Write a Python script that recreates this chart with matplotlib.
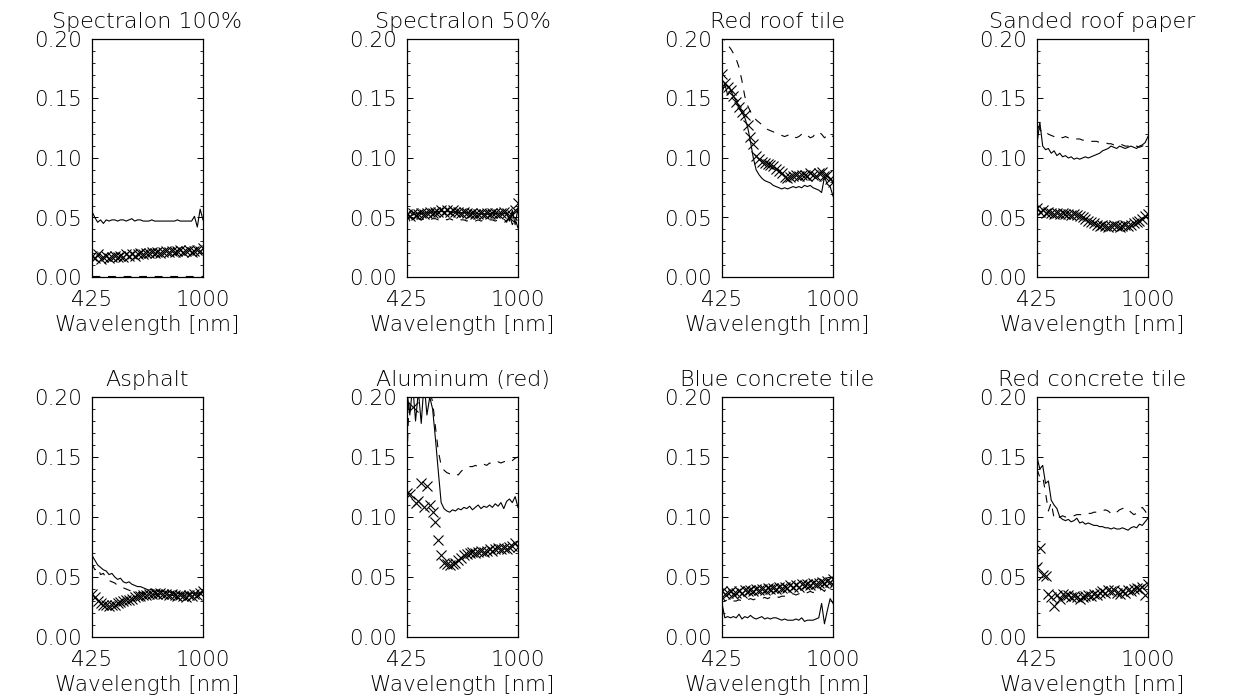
import numpy as np
import matplotlib
matplotlib.use("Agg")
from matplotlib import pyplot as plt
from matplotlib.ticker import MultipleLocator, FormatStrFormatter

plt.rcParams['font.family'] = ['DejaVu Sans']
plt.rcParams['font.size'] = 15.5
plt.rcParams['font.weight'] = 'light'
plt.rcParams['axes.titleweight'] = 'light'
plt.rcParams['axes.labelweight'] = 'light'

# band centres of the spectrometer (nm)
wavelength = np.linspace(425, 1000, 40)

targets = ["Spectralon 100%", "Spectralon 50%", "Red roof tile", "Sanded roof paper",
           "Asphalt", "Aluminum (red)", "Blue concrete tile", "Red concrete tile"]

# reflectance, three retrievals per target: solid line, dashed line, crosses
spec100_solid = [0.055, 0.050, 0.046, 0.048, 0.045, 0.048, 0.047, 0.048, 0.048, 0.047,
                 0.048, 0.048, 0.047, 0.048, 0.049, 0.047, 0.048, 0.048, 0.047, 0.047,
                 0.047, 0.048, 0.047, 0.047, 0.047, 0.047, 0.047, 0.047, 0.047, 0.047,
                 0.048, 0.047, 0.047, 0.047, 0.047, 0.047, 0.051, 0.042, 0.057, 0.048]
spec100_dash = [0.0006] * 40
spec100_x = [0.018, 0.016, 0.019, 0.015, 0.017, 0.018, 0.016, 0.017, 0.018, 0.017,
             0.018, 0.017, 0.019, 0.018, 0.019, 0.018, 0.019, 0.020, 0.019, 0.020,
             0.020, 0.021, 0.020, 0.021, 0.020, 0.021, 0.022, 0.021, 0.022, 0.021,
             0.022, 0.023, 0.021, 0.022, 0.023, 0.021, 0.022, 0.023, 0.022, 0.024]

spec50_solid = [0.050, 0.055, 0.052, 0.053, 0.054, 0.053, 0.054, 0.054, 0.054, 0.055,
                0.054, 0.055, 0.055, 0.055, 0.055, 0.055, 0.054, 0.055, 0.054, 0.054,
                0.054, 0.054, 0.054, 0.053, 0.054, 0.053, 0.053, 0.053, 0.053, 0.053,
                0.054, 0.053, 0.054, 0.053, 0.053, 0.054, 0.047, 0.056, 0.044, 0.058]
spec50_dash = [0.053, 0.047, 0.049, 0.048, 0.049, 0.048, 0.049, 0.049, 0.048, 0.049,
               0.049, 0.048, 0.049, 0.049, 0.048, 0.049, 0.048, 0.048, 0.049, 0.048,
               0.048, 0.047, 0.048, 0.048, 0.047, 0.048, 0.047, 0.048, 0.047, 0.048,
               0.048, 0.047, 0.048, 0.048, 0.049, 0.046, 0.052, 0.044, 0.049, 0.041]
spec50_x = [0.053, 0.051, 0.054, 0.052, 0.053, 0.054, 0.053, 0.054, 0.055, 0.054,
            0.055, 0.055, 0.056, 0.055, 0.056, 0.055, 0.056, 0.055, 0.055, 0.054,
            0.055, 0.054, 0.053, 0.054, 0.053, 0.053, 0.054, 0.053, 0.054, 0.053,
            0.054, 0.054, 0.053, 0.054, 0.055, 0.054, 0.050, 0.052, 0.056, 0.062]

roof_solid = [0.155, 0.162, 0.153, 0.157, 0.152, 0.148, 0.143, 0.138, 0.134, 0.126,
              0.114, 0.100, 0.090, 0.086, 0.083, 0.081, 0.080, 0.079, 0.077, 0.076,
              0.075, 0.074, 0.075, 0.074, 0.075, 0.076, 0.075, 0.076, 0.075, 0.077,
              0.076, 0.077, 0.075, 0.074, 0.073, 0.071, 0.084, 0.078, 0.076, 0.068]
roof_dash = [0.205, 0.198, 0.195, 0.192, 0.188, 0.183, 0.176, 0.165, 0.152, 0.144,
             0.139, 0.135, 0.132, 0.130, 0.128, 0.126, 0.124, 0.123, 0.122, 0.121,
             0.120, 0.119, 0.118, 0.119, 0.120, 0.119, 0.117, 0.118, 0.120, 0.121,
             0.119, 0.117, 0.118, 0.121, 0.122, 0.120, 0.117, 0.119, 0.120, 0.118]
roof_x = [0.171, 0.163, 0.160, 0.157, 0.152, 0.147, 0.143, 0.139, 0.136, 0.128,
          0.118, 0.112, 0.102, 0.099, 0.097, 0.096, 0.095, 0.094, 0.093, 0.091,
          0.089, 0.087, 0.084, 0.083, 0.084, 0.085, 0.086, 0.085, 0.086, 0.086,
          0.085, 0.087, 0.086, 0.085, 0.087, 0.088, 0.085, 0.086, 0.082, 0.080]

paper_solid = [0.112, 0.130, 0.110, 0.107, 0.108, 0.104, 0.106, 0.102, 0.104, 0.101,
               0.102, 0.100, 0.101, 0.099, 0.100, 0.099, 0.100, 0.101, 0.100, 0.101,
               0.102, 0.103, 0.104, 0.106, 0.107, 0.108, 0.110, 0.109, 0.108, 0.110,
               0.109, 0.108, 0.109, 0.110, 0.109, 0.108, 0.110, 0.111, 0.113, 0.118]
paper_dash = [0.128, 0.124, 0.121, 0.122, 0.120, 0.119, 0.118, 0.119, 0.118, 0.117,
              0.118, 0.117, 0.117, 0.116, 0.116, 0.116, 0.115, 0.115, 0.115, 0.114,
              0.114, 0.114, 0.113, 0.113, 0.113, 0.112, 0.112, 0.111, 0.111, 0.112,
              0.111, 0.110, 0.110, 0.110, 0.109, 0.110, 0.109, 0.110, 0.111, 0.113]
paper_x = [0.058, 0.055, 0.056, 0.054, 0.055, 0.054, 0.053, 0.054, 0.053, 0.054,
           0.053, 0.053, 0.052, 0.053, 0.052, 0.051, 0.050, 0.049, 0.047, 0.046,
           0.045, 0.044, 0.043, 0.044, 0.043, 0.042, 0.043, 0.044, 0.043, 0.042,
           0.043, 0.044, 0.043, 0.044, 0.045, 0.046, 0.047, 0.049, 0.051, 0.053]

asphalt_solid = [0.068, 0.064, 0.060, 0.058, 0.056, 0.055, 0.052, 0.053, 0.050, 0.048,
                 0.049, 0.046, 0.045, 0.046, 0.044, 0.043, 0.042, 0.042, 0.041, 0.040,
                 0.039, 0.040, 0.038, 0.039, 0.038, 0.038, 0.037, 0.038, 0.037, 0.036,
                 0.037, 0.036, 0.036, 0.037, 0.036, 0.037, 0.036, 0.037, 0.036, 0.038]
asphalt_dash = [0.061, 0.056, 0.058, 0.052, 0.053, 0.049, 0.047, 0.046, 0.045, 0.043,
                0.042, 0.041, 0.040, 0.039, 0.038, 0.038, 0.037, 0.037, 0.036, 0.036,
                0.036, 0.036, 0.035, 0.036, 0.035, 0.035, 0.036, 0.035, 0.035, 0.034,
                0.035, 0.035, 0.034, 0.035, 0.035, 0.036, 0.035, 0.036, 0.037, 0.038]
asphalt_x = [0.036, 0.033, 0.030, 0.028, 0.027, 0.027, 0.026, 0.027, 0.027, 0.028,
             0.029, 0.030, 0.031, 0.031, 0.032, 0.033, 0.034, 0.034, 0.035, 0.035,
             0.036, 0.036, 0.037, 0.036, 0.037, 0.036, 0.036, 0.035, 0.036, 0.035,
             0.034, 0.035, 0.034, 0.033, 0.035, 0.034, 0.036, 0.035, 0.037, 0.038]

alu_solid = [0.205, 0.185, 0.210, 0.180, 0.205, 0.178, 0.212, 0.185, 0.200, 0.190,
             0.165, 0.138, 0.112, 0.107, 0.105, 0.104, 0.106, 0.105, 0.107, 0.106,
             0.108, 0.107, 0.109, 0.106, 0.108, 0.110, 0.107, 0.109, 0.108, 0.110,
             0.108, 0.111, 0.109, 0.112, 0.107, 0.113, 0.115, 0.112, 0.117, 0.108]
alu_dash = [0.150, 0.215, 0.220, 0.210, 0.225, 0.215, 0.220, 0.212, 0.205, 0.196,
            0.175, 0.155, 0.143, 0.139, 0.137, 0.136, 0.135, 0.136, 0.135, 0.138,
            0.140, 0.141, 0.142, 0.142, 0.143, 0.142, 0.143, 0.144, 0.143, 0.145,
            0.144, 0.145, 0.146, 0.145, 0.146, 0.147, 0.148, 0.147, 0.149, 0.150]
alu_x = [0.120, 0.119, 0.192, 0.112, 0.113, 0.128, 0.108, 0.126, 0.110, 0.104,
         0.096, 0.081, 0.068, 0.062, 0.061, 0.060, 0.061, 0.062, 0.064, 0.066,
         0.068, 0.069, 0.070, 0.071, 0.070, 0.071, 0.072, 0.071, 0.072, 0.073,
         0.072, 0.073, 0.074, 0.073, 0.074, 0.073, 0.075, 0.076, 0.078, 0.075]

blue_solid = [0.028, 0.016, 0.017, 0.016, 0.017, 0.016, 0.019, 0.015, 0.017, 0.016,
              0.018, 0.016, 0.015, 0.016, 0.017, 0.015, 0.016, 0.015, 0.016, 0.016,
              0.015, 0.014, 0.015, 0.014, 0.014, 0.014, 0.015, 0.014, 0.016, 0.013,
              0.014, 0.014, 0.014, 0.015, 0.016, 0.028, 0.011, 0.022, 0.032, 0.028]
blue_dash = [0.034, 0.030, 0.031, 0.029, 0.030, 0.030, 0.031, 0.030, 0.031, 0.031,
             0.032, 0.031, 0.032, 0.032, 0.032, 0.033, 0.032, 0.033, 0.033, 0.034,
             0.033, 0.034, 0.034, 0.035, 0.035, 0.036, 0.035, 0.036, 0.037, 0.036,
             0.037, 0.038, 0.037, 0.039, 0.038, 0.040, 0.038, 0.042, 0.040, 0.045]
blue_x = [0.038, 0.036, 0.037, 0.038, 0.036, 0.037, 0.038, 0.037, 0.039, 0.038,
          0.039, 0.038, 0.040, 0.039, 0.040, 0.039, 0.041, 0.040, 0.041, 0.040,
          0.042, 0.041, 0.042, 0.041, 0.043, 0.042, 0.043, 0.042, 0.044, 0.043,
          0.044, 0.043, 0.045, 0.044, 0.045, 0.046, 0.045, 0.047, 0.046, 0.048]

redc_solid = [0.150, 0.140, 0.143, 0.128, 0.130, 0.114, 0.110, 0.107, 0.100, 0.098,
              0.097, 0.098, 0.096, 0.097, 0.099, 0.095, 0.096, 0.094, 0.095, 0.094,
              0.093, 0.093, 0.092, 0.092, 0.091, 0.091, 0.090, 0.091, 0.090, 0.090,
              0.091, 0.090, 0.089, 0.091, 0.092, 0.091, 0.094, 0.093, 0.096, 0.099]
redc_dash = [0.140, 0.133, 0.134, 0.120, 0.105, 0.112, 0.099, 0.098, 0.100, 0.101,
             0.100, 0.101, 0.101, 0.101, 0.102, 0.102, 0.102, 0.103, 0.103, 0.103,
             0.104, 0.104, 0.104, 0.105, 0.106, 0.105, 0.103, 0.102, 0.104, 0.106,
             0.107, 0.108, 0.106, 0.104, 0.102, 0.103, 0.106, 0.108, 0.105, 0.101]
redc_x = [0.058, 0.074, 0.052, 0.051, 0.036, 0.033, 0.026, 0.035, 0.032, 0.036,
          0.034, 0.035, 0.033, 0.034, 0.033, 0.032, 0.033, 0.034, 0.035, 0.034,
          0.036, 0.035, 0.037, 0.038, 0.037, 0.039, 0.038, 0.039, 0.037, 0.036,
          0.038, 0.037, 0.039, 0.038, 0.040, 0.041, 0.040, 0.042, 0.035, 0.044]

solid = [spec100_solid, spec50_solid, roof_solid, paper_solid,
         asphalt_solid, alu_solid, blue_solid, redc_solid]
dashed = [spec100_dash, spec50_dash, roof_dash, paper_dash,
          asphalt_dash, alu_dash, blue_dash, redc_dash]
crosses = [spec100_x, spec50_x, roof_x, paper_x,
           asphalt_x, alu_x, blue_x, redc_x]

W, H = 1253, 700
fig = plt.figure(figsize=(W / 100, H / 100), dpi=100)

lefts = [92, 407, 722, 1037]
rows = [(39, 277), (397, 637)]

for i, name in enumerate(targets):
    top, bot = rows[i // 4]
    left = lefts[i % 4]
    ax = fig.add_axes([left / W, 1 - bot / H, 111 / W, (bot - top) / H])

    ax.plot(wavelength, solid[i], color='black', lw=0.8)
    ax.plot(wavelength, dashed[i], color='black', lw=0.8, linestyle=(0, (7, 7)))
    ax.plot(wavelength, crosses[i], 'x', color='black', ms=6.5, mew=0.8)

    ax.set_xlim(425, 1000)
    ax.set_ylim(0, 0.2)
    ax.set_xticks([425, 1000])
    ax.set_yticks([0.0, 0.05, 0.10, 0.15, 0.20])
    ax.yaxis.set_major_formatter(FormatStrFormatter('%.2f'))
    ax.yaxis.set_minor_locator(MultipleLocator(0.01))
    ax.tick_params(axis='y', which='both', direction='in', right=True, pad=7)
    ax.tick_params(axis='y', which='major', length=4, width=0.7)
    ax.tick_params(axis='y', which='minor', length=2, width=0.6)
    ax.tick_params(axis='x', direction='in', length=0, pad=9)
    for s in ax.spines.values():
        s.set_linewidth(0.9)

    ax.set_title(name, pad=8, fontsize=16)
    ax.set_xlabel("Wavelength [nm]", labelpad=4)

fig.savefig("out.png", dpi=100, facecolor='white')
